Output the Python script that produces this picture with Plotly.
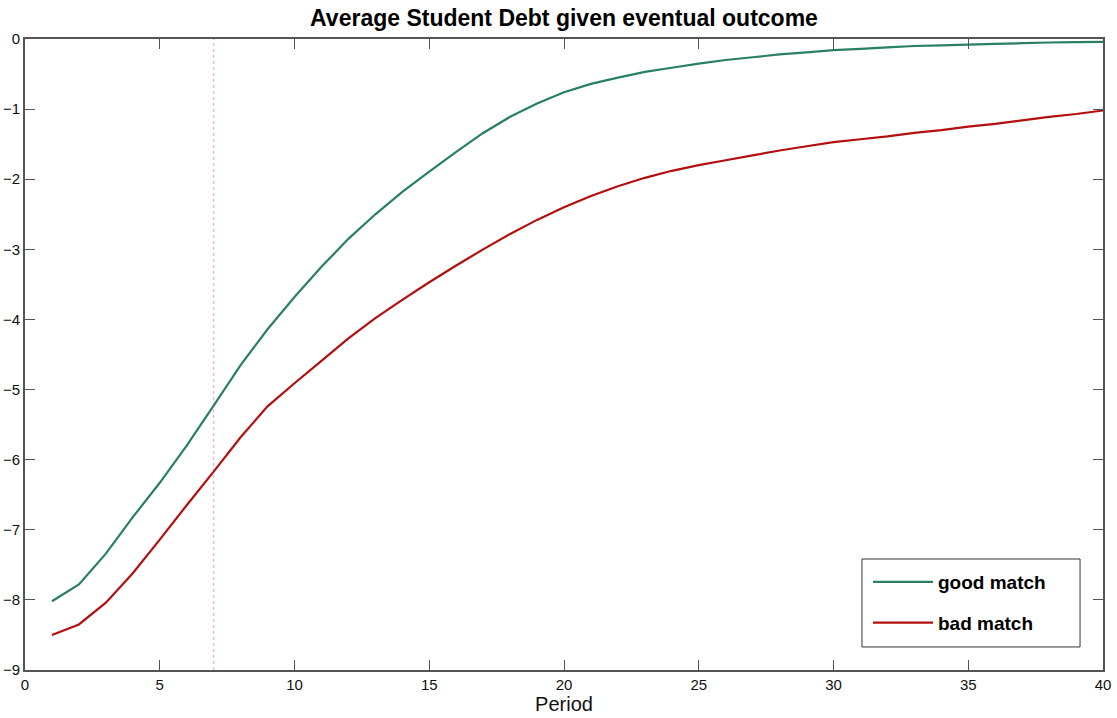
import plotly.graph_objects as go

periods = list(range(1, 41))
good_match = [-8.02, -7.78, -7.34, -6.82, -6.33, -5.80, -5.23, -4.65, -4.14, -3.68,
              -3.25, -2.85, -2.50, -2.18, -1.89, -1.61, -1.34, -1.11, -0.92, -0.76,
              -0.64, -0.55, -0.47, -0.41, -0.35, -0.30, -0.26, -0.22, -0.19, -0.16,
              -0.14, -0.12, -0.10, -0.09, -0.08, -0.07, -0.06, -0.05, -0.045, -0.04]
bad_match = [-8.50, -8.35, -8.04, -7.62, -7.14, -6.65, -6.17, -5.68, -5.24, -4.91,
             -4.59, -4.27, -3.98, -3.72, -3.47, -3.23, -3.00, -2.78, -2.58, -2.40,
             -2.24, -2.10, -1.98, -1.88, -1.80, -1.73, -1.66, -1.59, -1.53, -1.47,
             -1.43, -1.39, -1.34, -1.30, -1.25, -1.21, -1.16, -1.11, -1.07, -1.02]
series_names = ["good match", "bad match"]
marker_period = 7
x_ticks = [0, 5, 10, 15, 20, 25, 30, 35, 40]
y_ticks = [0, -1, -2, -3, -4, -5, -6, -7, -8, -9]

FONT = "Liberation Sans, Arial, Helvetica, sans-serif"
GREEN = "rgb(40,128,96)"
RED = "rgb(180,14,14)"
AXIS = "#555555"

fig = go.Figure()
fig.add_trace(go.Scatter(x=periods, y=good_match, mode="lines",
                         name="<b>" + series_names[0] + "</b>", legendgroup="g1",
                         line=dict(color=GREEN, width=2.2, simplify=False)))
fig.add_trace(go.Scatter(x=periods, y=bad_match, mode="lines",
                         name="<b>" + series_names[1] + "</b>", legendgroup="g2",
                         line=dict(color=RED, width=2.2, simplify=False)))

fig.add_shape(type="line", x0=marker_period, x1=marker_period, xref="x",
              y0=0, y1=1, yref="paper",
              line=dict(color="rgb(255,175,190)", width=1.3, dash="dot"), layer="below")

# legend frame
fig.add_shape(type="rect", xref="paper", yref="paper",
              x0=0.7764, x1=0.9787, y0=0.0365, y1=0.1759,
              line=dict(color="#333", width=1), fillcolor="white", layer="below")

axis_common = dict(showgrid=False, zeroline=False, showline=True, linecolor=AXIS,
                   linewidth=1.6, mirror="ticks", ticks="inside", ticklen=10,
                   tickcolor=AXIS, tickwidth=1.4, automargin=False,
                   tickfont=dict(family=FONT, size=15, color="#111"))

fig.update_xaxes(range=[0, 40], tickvals=x_ticks,
                 title=dict(text="Period", font=dict(family=FONT, size=20, color="#111"),
                            standoff=2),
                 **axis_common)
fig.update_yaxes(range=[-9, 0], tickvals=y_ticks, **axis_common)

fig.update_layout(
    width=1117, height=718,
    margin=dict(l=25, r=14, t=39, b=48),
    paper_bgcolor="white", plot_bgcolor="white",
    font=dict(family=FONT, color="#111"),
    title=dict(text="<b>Average Student Debt given eventual outcome</b>",
               x=0.5, xanchor="center", xref="paper", y=0.975, yanchor="middle",
               font=dict(family=FONT, size=23, color="#000")),
    showlegend=True,
    legend=dict(x=0.782, xanchor="left", y=0.1696, yanchor="top",
                bgcolor="rgba(0,0,0,0)", borderwidth=0,
                font=dict(family=FONT, size=19, color="#000"),
                tracegroupgap=13, itemwidth=60),
)

fig.write_html("out.html")
